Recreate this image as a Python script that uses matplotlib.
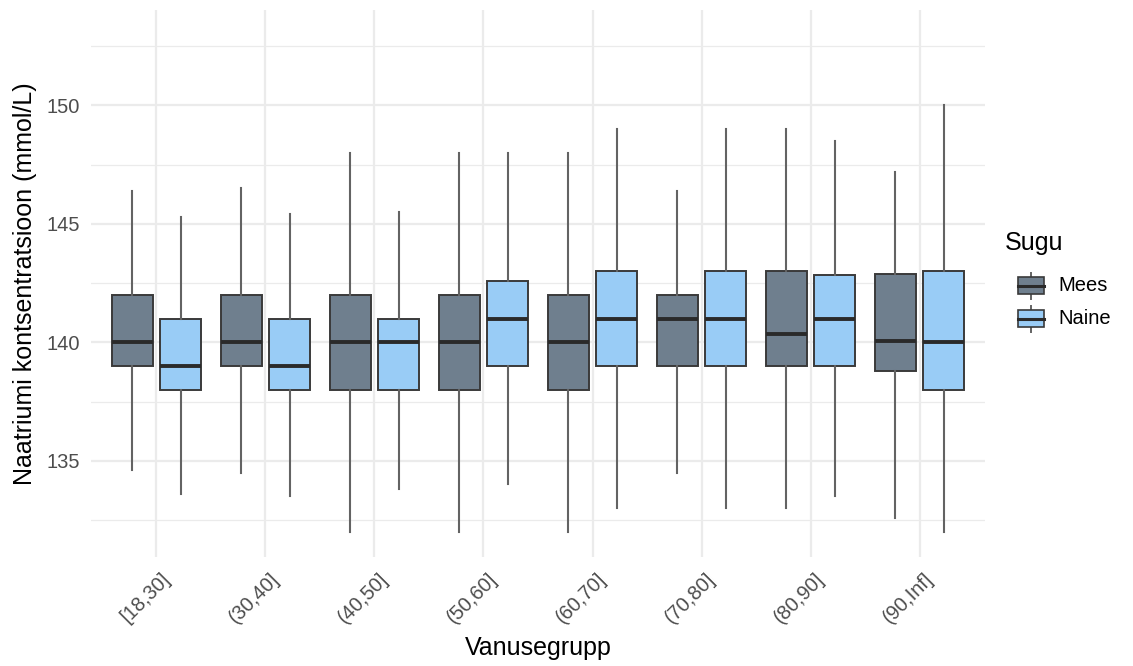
import matplotlib
matplotlib.use("Agg")
import matplotlib.pyplot as plt
import matplotlib.transforms as mtransforms
from matplotlib.patches import Rectangle

plt.rcParams['font.family'] = ['Liberation Sans', 'DejaVu Sans']

groups = ["[18,30]", "(30,40]", "(40,50]", "(50,60]", "(60,70]", "(70,80]", "(80,90]", "(90,Inf]"]
sexes = ["Mees", "Naine"]

# per group: whislo, q1, median, q3, whishi
mees_whislo = [134.6, 134.5, 132.0, 132.0, 132.0, 134.5, 133.0, 132.6]
mees_q1     = [139.0, 139.0, 138.0, 138.0, 138.0, 139.0, 139.0, 138.8]
mees_med    = [140.0, 140.0, 140.0, 140.0, 140.0, 141.0, 140.35, 140.05]
mees_q3     = [142.0, 142.0, 142.0, 142.0, 142.0, 142.0, 143.0, 142.9]
mees_whishi = [146.4, 146.5, 148.0, 148.0, 148.0, 146.4, 149.0, 147.2]

naine_whislo = [133.6, 133.5, 133.8, 134.0, 133.0, 133.0, 133.5, 132.0]
naine_q1     = [138.0, 138.0, 138.0, 139.0, 139.0, 139.0, 139.0, 138.0]
naine_med    = [139.0, 139.0, 140.0, 141.0, 141.0, 141.0, 141.0, 140.0]
naine_q3     = [141.0, 141.0, 141.0, 142.6, 143.0, 143.0, 142.85, 143.0]
naine_whishi = [145.3, 145.4, 145.5, 148.0, 149.0, 149.0, 148.5, 150.0]

colors = {"Mees": "#6F7F8E", "Naine": "#99CCF6"}
edge = "#3A3A3A"
whisk = "#636363"
grid_c = "#EBEBEB"
txt_c = "#4D4D4D"

W, H = 1133, 666
fig = plt.figure(figsize=(W / 100, H / 100), dpi=100)
left, right, top, bottom = 91, 985, 10, 557
ax = fig.add_axes([left / W, 1 - bottom / H, (right - left) / W, (bottom - top) / H])

data = {
    "Mees": (mees_whislo, mees_q1, mees_med, mees_q3, mees_whishi),
    "Naine": (naine_whislo, naine_q1, naine_med, naine_q3, naine_whishi),
}
offsets = {"Mees": -0.223, "Naine": 0.223}
bw = 0.377

# grid
for v in [132.5, 135, 137.5, 140, 142.5, 145, 147.5, 150, 152.5]:
    ax.axhline(v, color=grid_c, lw=1.6 if v % 5 == 0 else 0.9, zorder=0)
for i in range(len(groups)):
    ax.axvline(i + 1, color=grid_c, lw=1.6, zorder=0)

for s in sexes:
    wl, q1, md, q3, wh = data[s]
    stats = []
    for i in range(len(groups)):
        stats.append(dict(whislo=wl[i], q1=q1[i], med=md[i], q3=q3[i], whishi=wh[i], fliers=[]))
    pos = [i + 1 + offsets[s] for i in range(len(groups))]
    ax.bxp(stats, positions=pos, widths=bw, patch_artist=True, showcaps=False,
           showfliers=False, manage_ticks=False,
           boxprops=dict(facecolor=colors[s], edgecolor=edge, linewidth=1.4),
           medianprops=dict(color="#2A2A2A", linewidth=2.8),
           whiskerprops=dict(color=whisk, linewidth=1.5),
           zorder=3)

ax.set_xlim(0.4, 8.6)
ax.set_ylim(130.94, 154.02)
ax.set_yticks([135, 140, 145, 150])
ax.set_xticks(range(1, len(groups) + 1))
ax.set_xticklabels(groups, rotation=45, ha="right", va="top", rotation_mode="anchor")
ax.tick_params(axis="both", length=0, colors=txt_c, labelsize=14.5)
ax.tick_params(axis="x", pad=9)
ax.tick_params(axis="y", pad=8)
shift = mtransforms.ScaledTranslation(4 / 100, 0, fig.dpi_scale_trans)
for lbl in ax.get_xticklabels():
    lbl.set_transform(lbl.get_transform() + shift)
for sp in ax.spines.values():
    sp.set_visible(False)
ax.set_xlabel("Vanusegrupp", fontsize=18, color="black", va="center")
ax.xaxis.set_label_coords(0.5, (557 - 648) / 547)
ax.set_ylabel("Naatriumi kontsentratsioon (mmol/L)", fontsize=18, color="black", va="center")
ax.yaxis.set_label_coords((25 - 91) / 894, 0.5)

# legend (manual, boxplot-style key glyphs)
fig.text(1005 / W, 1 - 243 / H, "Sugu", fontsize=18, va="center", ha="left")
lax = fig.add_axes([1012 / W, 1 - 340 / H, 40 / W, 80 / H])
lax.set_xlim(0, 40)
lax.set_ylim(340, 260)
lax.axis("off")
for j, s in enumerate(sexes):
    cy = 285.5 + j * 33
    lax.plot([19, 19], [cy - 13, cy + 13], color=whisk, lw=1.4)
    lax.add_patch(Rectangle((6, cy - 8.5), 26, 17, facecolor=colors[s], edgecolor=edge, lw=1.2, zorder=3))
    lax.plot([6, 32], [cy, cy], color="#2A2A2A", lw=2.2, zorder=4)
    fig.text(1058 / W, 1 - cy / H, s, fontsize=14.5, va="center", ha="left")

fig.savefig("out.png", dpi=100, facecolor="white")
